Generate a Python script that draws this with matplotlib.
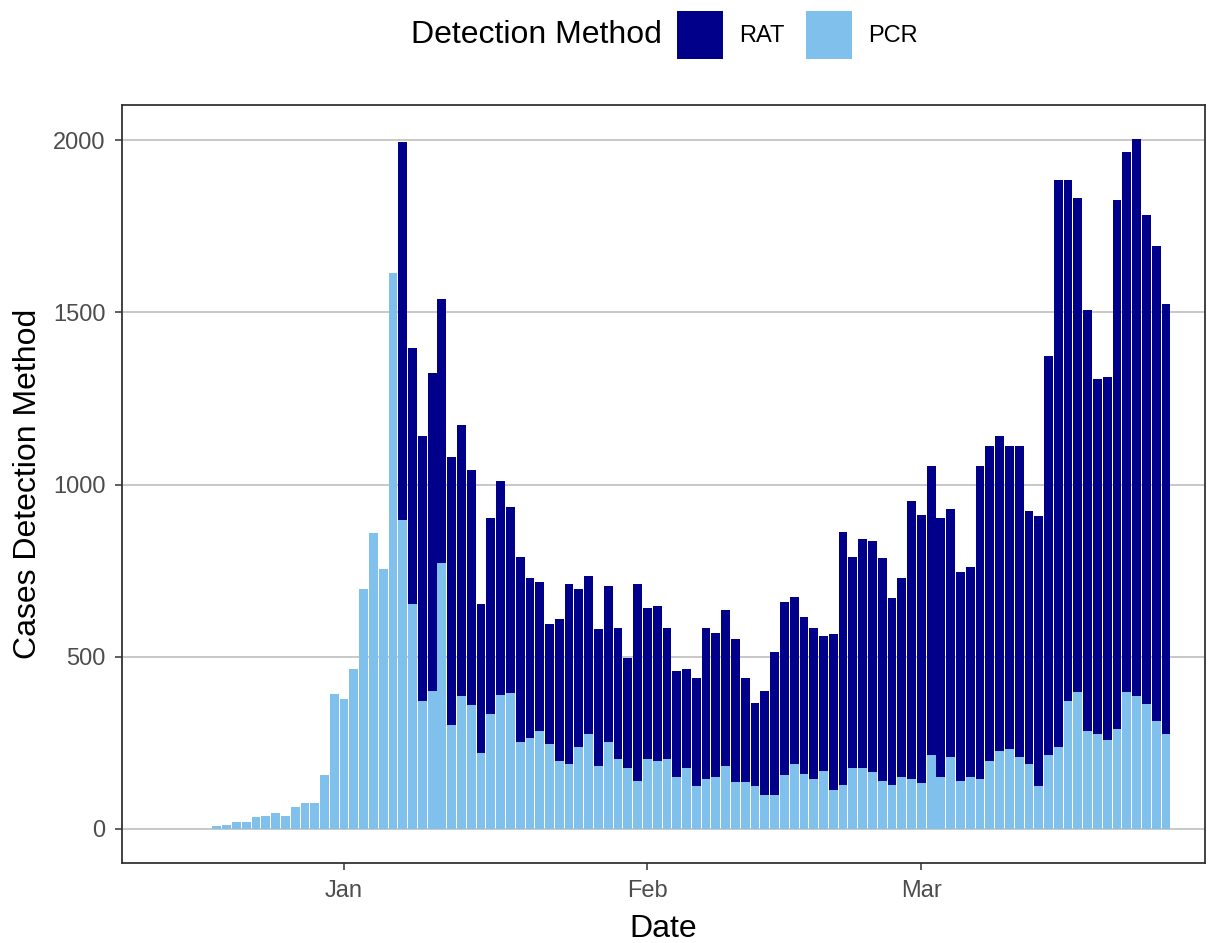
import matplotlib
matplotlib.use("Agg")
import matplotlib.pyplot as plt
import matplotlib.dates as mdates
from matplotlib.patches import Patch
import numpy as np
import pandas as pd

plt.rcParams['font.family'] = ['Liberation Sans', 'DejaVu Sans']

# daily cases, 19 Dec 2021 .. 26 Mar 2022
dates = pd.date_range("2021-12-19", "2022-03-26", freq="D")

pcr = [8, 9, 20, 20, 33, 38, 44, 38, 63, 75, 75, 157, 391,
       378, 465, 697, 860, 754, 1614, 898, 652, 370, 401, 773, 302, 385, 359,
       220, 333, 389, 394, 251, 263, 283, 245, 195, 188, 238, 276, 181, 251,
       201, 175, 138,
       201, 195, 201, 149, 175, 125, 145, 149, 181, 135, 135, 125, 99, 99,
       155, 188, 158, 145, 168, 112, 126, 175, 175, 164, 138, 126, 151, 145,
       132, 214, 151, 208, 138, 151, 145, 195, 225, 231, 208, 188, 125, 214,
       238, 370, 396, 283, 276, 256, 289, 396, 385, 362, 313, 276]

rat = [0] * 19 + [
       1098, 746, 771, 922, 766, 778, 788, 682, 432, 569, 621, 541, 539,
       464, 434, 351, 414, 522, 459, 458, 398, 453, 382, 322, 572,
       441, 451, 382, 309, 289, 313, 438, 420, 454, 417, 303, 241, 302, 415,
       503, 484, 457, 438, 391, 453, 735, 615, 667, 671, 647, 545, 576, 808,
       779, 839, 752, 722, 609, 609, 908, 916, 916, 880, 903, 734, 784, 1160,
       1646, 1514, 1438, 1223, 1030, 1056, 1539, 1570, 1618, 1420, 1381, 1249]

methods = ['RAT', 'PCR']
colors = {'RAT': '#00008B', 'PCR': '#80C0EC'}

pcr = np.array(pcr)
rat = np.array(rat)

fig = plt.figure(figsize=(12.16, 9.43), dpi=100)
ax = fig.add_axes([0.1003, 0.0848, 0.8907, 0.8039])

ax.bar(dates, pcr, width=0.9, color=colors['PCR'], linewidth=0)
ax.bar(dates, rat, bottom=pcr, width=0.9, color=colors['RAT'], linewidth=0)

total = pcr + rat
ymax = total.max()
ax.set_ylim(-0.05 * ymax, 1.05 * ymax)
ax.set_xlim(pd.Timestamp("2022-01-01") - pd.Timedelta(days=22.7),
            pd.Timestamp("2022-01-01") + pd.Timedelta(days=88.0))

ax.set_yticks([0, 500, 1000, 1500, 2000])
ax.xaxis.set_major_locator(mdates.MonthLocator())
ax.xaxis.set_major_formatter(mdates.DateFormatter('%b'))

ax.yaxis.grid(True, color='#C4C4C4', linewidth=1.3)
ax.xaxis.grid(False)
ax.set_axisbelow(True)
for s in ax.spines.values():
    s.set_color('#333333')
    s.set_linewidth(1.3)

ax.tick_params(axis='both', colors='#333333', labelcolor='#4D4D4D',
               labelsize=17, length=5, width=1.1)
ax.tick_params(axis='y', pad=7)
ax.tick_params(axis='x', pad=7)

ax.set_xlabel('Date', fontsize=23, labelpad=9)
ax.set_ylabel('Cases Detection Method', fontsize=23, labelpad=7)

# legend on top, title to the left of the keys
fig.text(0.338, 0.963, 'Detection Method', fontsize=23, ha='left', va='center')
handles = [Patch(facecolor=colors[m], edgecolor='none') for m in methods]
fig.legend(handles, methods, loc='center left', bbox_to_anchor=(0.5567, 0.963),
           ncol=2, frameon=False, fontsize=17, handlelength=1.95,
           handleheight=2.7, handletextpad=0.68, columnspacing=0.9,
           borderpad=0, borderaxespad=0)

fig.savefig('out.png', dpi=100)
